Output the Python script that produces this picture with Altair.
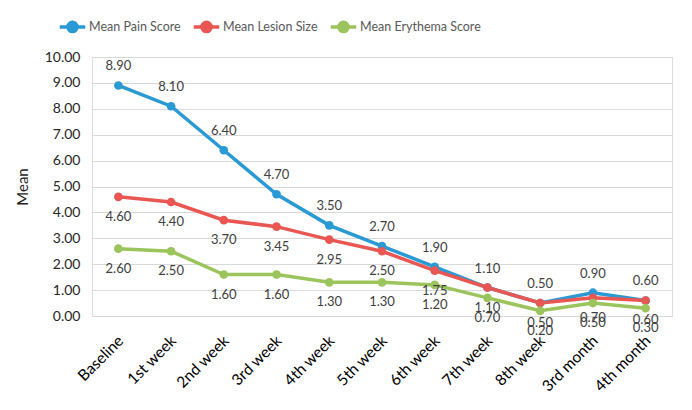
import altair as alt
import pandas as pd

categories = ["Baseline", "1st week", "2nd week", "3rd week", "4th week", "5th week",
              "6th week", "7th week", "8th week", "3rd month", "4th month"]
pain = [8.90, 8.10, 6.40, 4.70, 3.50, 2.70, 1.90, 1.10, 0.50, 0.90, 0.60]
lesion = [4.60, 4.40, 3.70, 3.45, 2.95, 2.50, 1.75, 1.10, 0.50, 0.70, 0.60]
erythema = [2.60, 2.50, 1.60, 1.60, 1.30, 1.30, 1.20, 0.70, 0.20, 0.50, 0.30]
series_names = ["Mean Pain Score", "Mean Lesion Size", "Mean Erythema Score"]
series_colors = ["#2A9AD5", "#EA5753", "#9BC55C"]
y_ticks = [0, 1, 2, 3, 4, 5, 6, 7, 8, 9, 10]

rows = []
for name, vals in zip(series_names, [pain, lesion, erythema]):
    for c, v in zip(categories, vals):
        rows.append({"cat": c, "series": name, "value": v})
df = pd.DataFrame(rows)

FONT = "Lato"

x = alt.X("cat:N", sort=categories, scale=alt.Scale(type="point", padding=0.5),
          axis=alt.Axis(title=None, labelAngle=-45, labelFontSize=15.5, labelColor="#000000",
                        labelPadding=17, labelOffset=-3, domain=False, ticks=False, grid=False))
y = alt.Y("value:Q", scale=alt.Scale(domain=[0, 10], nice=False),
          axis=alt.Axis(title="Mean", values=y_ticks, format=".2f", labelFontSize=14,
                        labelColor="#262626", titleFontSize=15, titleColor="#262626",
                        titleFontWeight="normal", titlePadding=14, labelPadding=12,
                        domain=False, ticks=False, gridColor="#D9D9D9", gridWidth=1))
color = alt.Color("series:N", scale=alt.Scale(domain=series_names, range=series_colors),
                  sort=series_names,
                  legend=alt.Legend(title=None, orient="none", direction="horizontal",
                                    legendX=-34, legendY=-45, labelFontSize=12.5,
                                    labelColor="#595959", columnPadding=5, labelOffset=2,
                                    symbolType="M-1,0L1,0M-0.36,0a0.36,0.36 0 1,0 0.72,0a0.36,0.36 0 1,0 -0.72,0",
                                    symbolSize=650, symbolStrokeWidth=3.5))

base = alt.Chart(df)
lines = base.mark_line(strokeWidth=3.5).encode(x=x, y=y, color=color)
points = base.mark_point(filled=True, size=75, opacity=1).encode(
    x=x, y=y, color=alt.Color("series:N", scale=alt.Scale(domain=series_names, range=series_colors), legend=None))
text_above = base.transform_filter(alt.datum.series == "Mean Pain Score").mark_text(
    dy=-19, fontSize=13, color="#404040", font=FONT).encode(
    x=x, y=y, text=alt.Text("value:Q", format=".2f"))
text_below = base.transform_filter(alt.datum.series != "Mean Pain Score").mark_text(
    dy=20, fontSize=13, color="#404040", font=FONT).encode(
    x=x, y=y, text=alt.Text("value:Q", format=".2f"))

chart = alt.layer(lines, points, text_above, text_below).properties(
    width=580, height=259,
    autosize=alt.AutoSizeParams(type="none"),
    padding={"left": 84, "top": 49, "right": 12, "bottom": 86},
    background="white",
).configure_view(stroke=None).configure(font=FONT)

chart.save("out.html", embed_options={"renderer": "svg", "actions": False})
